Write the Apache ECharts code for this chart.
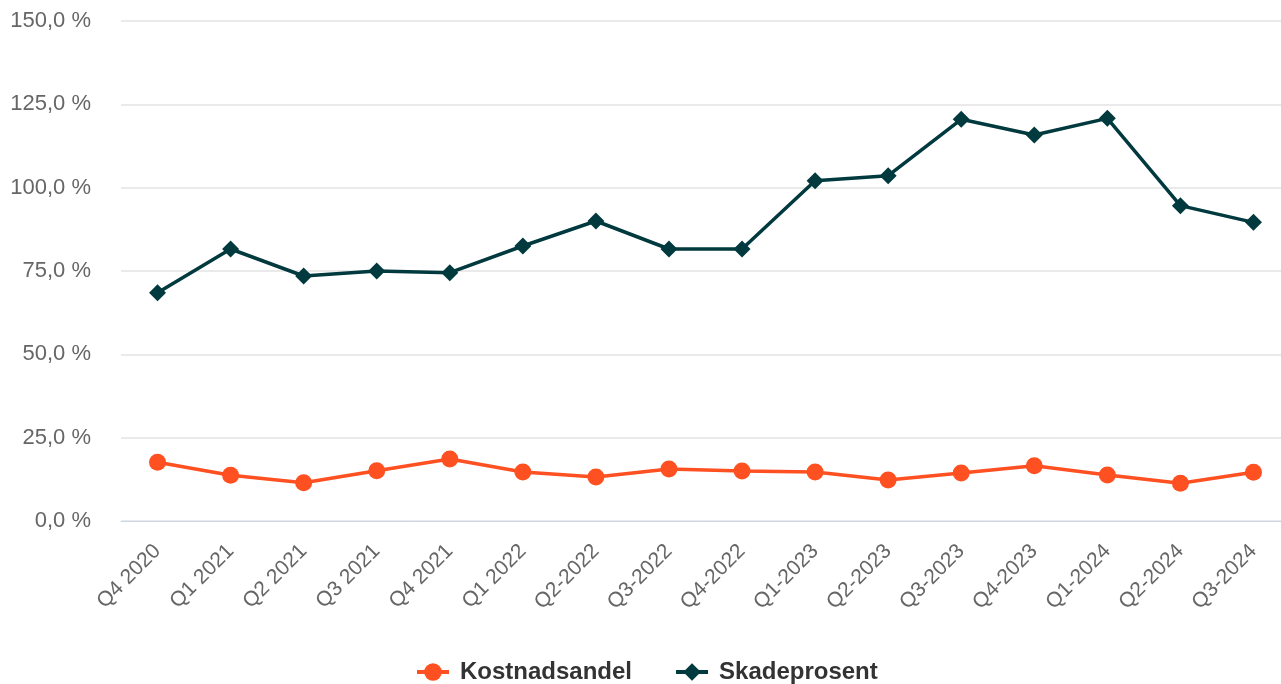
<!DOCTYPE html>
<html>
<head>
<meta charset="utf-8">
<script src="https://cdn.jsdelivr.net/npm/echarts@6/dist/echarts.min.js"></script>
<style>
html,body{margin:0;padding:0;background:#fff;}
#chart{width:1281px;height:684px;}
</style>
</head>
<body>
<div id="chart"></div>
<script>
const categories = ["Q4 2020","Q1 2021","Q2 2021","Q3 2021","Q4 2021","Q1 2022","Q2-2022","Q3-2022","Q4-2022","Q1-2023","Q2-2023","Q3-2023","Q4-2023","Q1-2024","Q2-2024","Q3-2024"];
const kostnadsandel = [17.6,13.7,11.5,15.1,18.6,14.7,13.2,15.6,15.0,14.7,12.3,14.4,16.6,13.8,11.3,14.6];
const skadeprosent = [68.5,81.6,73.5,75.0,74.5,82.5,90.0,81.6,81.6,102.1,103.6,120.5,115.8,120.8,94.6,89.6];
const yTicks = { min: 0, max: 150, interval: 25 };

const chart = echarts.init(document.getElementById('chart'));
chart.setOption({
  animation: false,
  backgroundColor: '#ffffff',
  textStyle: { fontFamily: 'Liberation Sans, Arial, sans-serif' },
  grid: { left: 121, width: 1169, top: 21, height: 500, containLabel: false, outerBoundsMode: 'none' },
  legend: {
    top: 655,
    left: 410,
    itemWidth: 32,
    itemHeight: 22,
    itemGap: 42,
    lineStyle: { width: 4 },
    textStyle: { fontSize: 24, fontWeight: 'bold', color: '#333333', fontFamily: 'Liberation Sans, Arial, sans-serif', padding: [0, 0, 0, 6] },
    data: ['Kostnadsandel', 'Skadeprosent']
  },
  xAxis: {
    type: 'category',
    data: categories,
    boundaryGap: true,
    axisLine: { show: true, lineStyle: { color: '#ccd6eb', width: 1 } },
    axisTick: { show: false },
    axisLabel: { rotate: 45, fontSize: 21, color: '#666666', margin: 27, interval: 0 }
  },
  yAxis: {
    type: 'value',
    min: yTicks.min, max: yTicks.max, interval: yTicks.interval,
    axisLine: { show: false },
    axisTick: { show: false },
    splitLine: { lineStyle: { color: '#e3e3e3', width: 1.5 } },
    axisLabel: {
      fontSize: 22, color: '#666666', margin: 30,
      formatter: v => v.toFixed(1).replace('.', ',') + ' %'
    }
  },
  series: [
    {
      name: 'Kostnadsandel', type: 'line', data: kostnadsandel,
      symbol: 'circle', symbolSize: 17,
      lineStyle: { color: '#ff5021', width: 3.5 },
      itemStyle: { color: '#ff5021' }
    },
    {
      name: 'Skadeprosent', type: 'line', data: skadeprosent,
      symbol: 'diamond', symbolSize: 17,
      lineStyle: { color: '#003a3e', width: 3.5 },
      itemStyle: { color: '#003a3e' }
    }
  ]
});
</script>
</body>
</html>
